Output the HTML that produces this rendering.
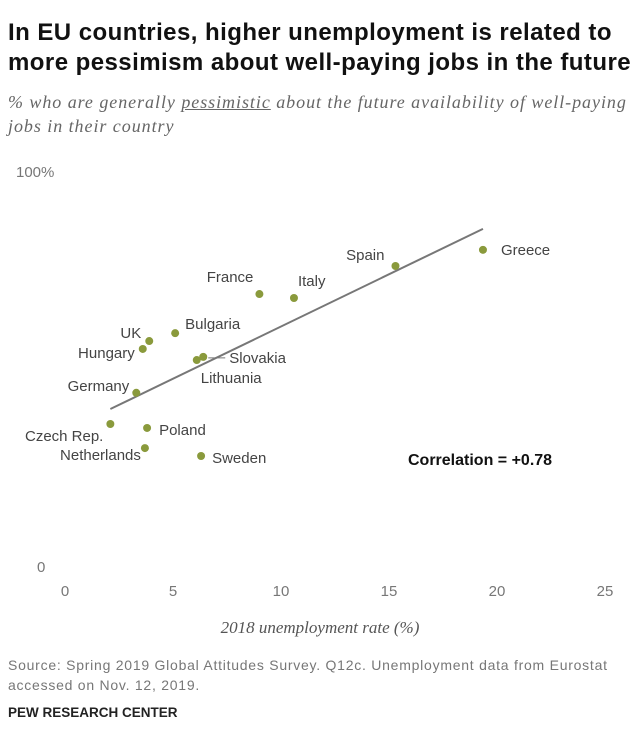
<!DOCTYPE html>
<html><head><meta charset="utf-8"><style>
body{margin:0;width:640px;height:751px;background:#fff;font-family:"Liberation Sans",sans-serif;overflow:hidden}
.t{position:absolute;left:8px;top:18px;font-size:24px;font-weight:bold;color:#111;line-height:30px;letter-spacing:0.45px}
.s{position:absolute;left:8px;top:90px;font-family:"Liberation Serif",serif;font-style:italic;font-size:18px;color:#666;line-height:24px;letter-spacing:0.95px}
.f{position:absolute;left:8px;top:655px;font-size:14px;color:#777;line-height:20px;letter-spacing:0.75px}
.p{position:absolute;left:8px;top:705px;font-size:13.5px;font-weight:bold;color:#222}
svg{position:absolute;left:0;top:0}
</style></head><body>
<div class="t">In EU countries, higher unemployment is related to<br>more pessimism about well-paying jobs in the future</div>
<div class="s">% who are generally <span style="text-decoration:underline">pessimistic</span> about the future availability of well-paying<br>jobs in their country</div>
<svg id="c" width="640" height="751"></svg>
<div class="f">Source: Spring 2019 Global Attitudes Survey. Q12c. Unemployment data from Eurostat<br>accessed on Nov. 12, 2019.</div>
<div class="p">PEW RESEARCH CENTER</div>
<script>
const countries=["Greece","Spain","Italy","France","Bulgaria","UK","Hungary","Slovakia","Lithuania","Germany","Czech Rep.","Poland","Netherlands","Sweden"];
const unemployment=[19.35,15.3,10.6,9.0,5.1,3.9,3.6,6.4,6.1,3.3,2.1,3.8,3.7,6.3];
const pessimism=[80.3,76.2,68.1,69.1,59.2,57.2,55.2,53.2,52.4,44.1,36.2,35.2,30.1,28.1];
const xTicks=[0,5,10,15,20,25];
const trendX=[2.1,19.35];
const trendY=[40,85.6];
const labelPos={"Greece":[18,5,"start"],"Spain":[-11,-6,"end"],"Italy":[4,-12,"start"],"France":[-6,-12,"end"],"Bulgaria":[10,-4,"start"],"UK":[-8,-3,"end"],"Hungary":[-8,9,"end"],"Slovakia":[26,6,"start"],"Lithuania":[4,23,"start"],"Germany":[-7,-2,"end"],"Czech Rep.":[-7,17,"end"],"Poland":[12,7,"start"],"Netherlands":[-4,12,"end"],"Sweden":[11,7,"start"]};
const X=v=>65+v*21.6, Y=v=>567-v*3.95;
const svg=document.getElementById('c');const NS='http://www.w3.org/2000/svg';
function mk(t,a,txt){const e=document.createElementNS(NS,t);for(const k in a)e.setAttribute(k,a[k]);if(txt!==undefined)e.textContent=txt;svg.appendChild(e);return e;}
let e=mk('text',{x:16,y:177,'font-size':15,fill:'#777'},'100%');


e=mk('text',{x:37,y:572,'font-size':15,fill:'#777'},'0');


xTicks.forEach(t=>{const el=mk('text',{x:X(t),y:596,'font-size':15,fill:'#777','text-anchor':'middle'},String(t));

});
e=mk('text',{x:320,y:633,'font-size':17,fill:'#555','font-family':'Liberation Serif,serif','font-style':'italic','text-anchor':'middle'},'2018 unemployment rate (%)');


e=mk('line',{x1:X(trendX[0]),y1:Y(trendY[0]),x2:X(trendX[1]),y2:Y(trendY[1]),stroke:'#777','stroke-width':2});


countries.forEach((c,i)=>{const cx=X(unemployment[i]),cy=Y(pessimism[i]);
const d=mk('circle',{cx:cx,cy:cy,r:4,fill:'#8a9a3c'});


const lp=labelPos[c];
const l=mk('text',{x:cx+lp[0],y:cy+lp[1],'font-size':15,fill:'#444','text-anchor':lp[2]},c);

});
e=mk('line',{x1:X(6.4)+5,y1:Y(53.2)+1,x2:X(6.4)+22,y2:Y(53.2)+1,stroke:'#777','stroke-width':1});


e=mk('text',{x:408,y:465,'font-size':16,'font-weight':'bold',fill:'#111'},'Correlation = +0.78');


</script>
</body></html>
